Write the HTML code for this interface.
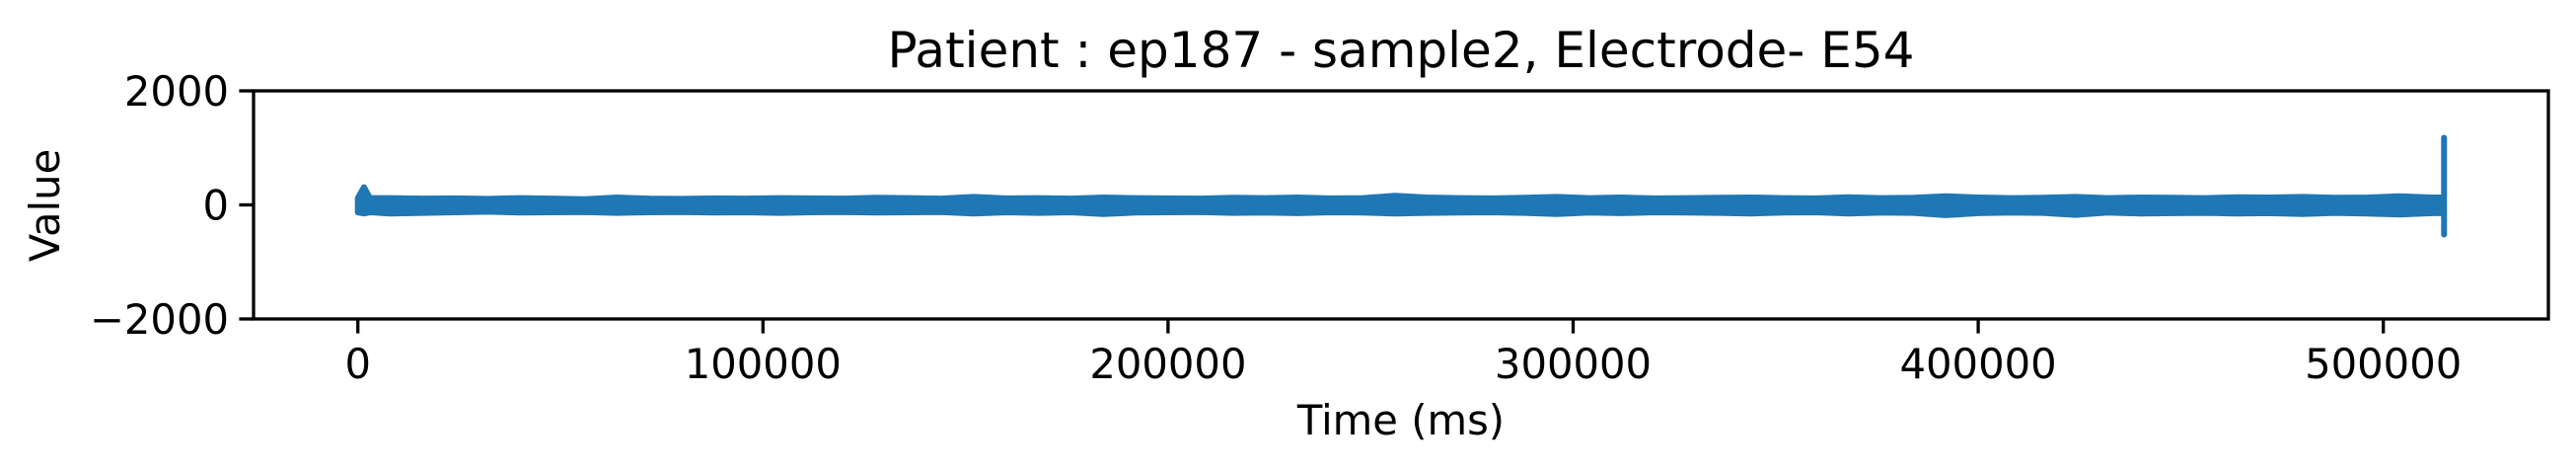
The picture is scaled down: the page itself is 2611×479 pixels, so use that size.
<!DOCTYPE html>
<html><head><meta charset="utf-8"><style>
html,body{margin:0;padding:0;background:#fff;}
svg{display:block;font-family:"DejaVu Sans","Liberation Sans",sans-serif;}
</style></head><body>
<svg id="chart" width="2611" height="479" viewBox="0 0 2611 479" xmlns="http://www.w3.org/2000/svg">
<rect width="2611" height="479" fill="#fff"/>
<text x="1420" y="68" font-size="50" text-anchor="middle">Patient : ep187 - sample2, Electrode- E54</text>
<text transform="translate(60,208) rotate(-90)" font-size="41.7" text-anchor="middle">Value</text>
<text x="1420" y="440" font-size="41.7" text-anchor="middle">Time (ms)</text>
<g id="ticks"></g>
<g id="series"></g>
<rect x="257" y="92" width="2326" height="231" fill="none" stroke="#000" stroke-width="3.3"/>
</svg>
<script>
const xTicks=[0,100000,200000,300000,400000,500000];
const xTickLabels=["0","100000","200000","300000","400000","500000"];
const yTicks=[-2000,0,2000];
const yTickLabels=["\u22122000","0","2000"];
const times=[0,1500,3000,8000,16000,24000,32000,40000,48000,56000,64000,72000,80000,88000,96000,104000,112000,120000,128000,136000,144000,152000,160000,168000,176000,184000,192000,200000,208000,216000,224000,232000,240000,248000,256000,264000,272000,280000,288000,296000,304000,312000,320000,328000,336000,344000,352000,360000,368000,376000,384000,392000,400000,408000,416000,424000,432000,440000,448000,456000,464000,472000,480000,488000,496000,504000,512000,514500];
const upper=[120,310,120,120,110,115,105,120,110,100,130,110,105,115,110,120,115,110,125,120,110,140,115,120,110,130,120,115,110,125,120,130,115,120,160,130,120,115,125,140,120,130,115,120,125,130,120,115,135,120,125,150,130,120,125,140,120,130,125,120,135,130,140,125,130,150,130,130];
const lower=[-130,-150,-130,-150,-140,-130,-120,-135,-130,-125,-140,-130,-125,-135,-130,-140,-130,-125,-135,-130,-125,-150,-130,-140,-130,-160,-135,-130,-125,-140,-135,-145,-130,-135,-150,-140,-135,-130,-140,-160,-135,-145,-130,-135,-140,-150,-135,-130,-150,-135,-140,-180,-145,-135,-140,-175,-135,-150,-145,-140,-150,-145,-160,-140,-150,-170,-145,-145];
const spikeTime=[515000];
const spikeHigh=[1177];
const spikeLow=[-520];

const X0=257,X1=2583,Y0=92,Y1=323;
const xMin=-25750,xMax=540750,yMin=-2000,yMax=2000;
function xs(v){return X0+(v-xMin)/(xMax-xMin)*(X1-X0);}
function ys(v){return Y1-(v-yMin)/(yMax-yMin)*(Y1-Y0);}
const NS="http://www.w3.org/2000/svg";
function mk(t,a){const e=document.createElementNS(NS,t);for(const k in a)e.setAttribute(k,a[k]);return e;}
const tg=document.getElementById('ticks');
xTicks.forEach((v,i)=>{
  const l=mk('line',{x1:xs(v),x2:xs(v),y1:Y1,y2:Y1+14.6,stroke:'#000','stroke-width':3.3});
  
  
  tg.appendChild(l);
  const t=mk('text',{x:xs(v),y:383,'font-size':41.7,'text-anchor':'middle'});
  
  
  t.textContent=xTickLabels[i];tg.appendChild(t);
});
yTicks.forEach((v,i)=>{
  const l=mk('line',{x1:X0-14.6,x2:X0,y1:ys(v),y2:ys(v),stroke:'#000','stroke-width':3.3});
  
  
  tg.appendChild(l);
  const t=mk('text',{x:X0-25,y:ys(v)+15,'font-size':41.7,'text-anchor':'end'});
  
  
  t.textContent=yTickLabels[i];tg.appendChild(t);
});
const sg=document.getElementById('series');
const n=Math.min(times.length,upper.length,lower.length);
let pts=[];
for(let i=0;i<n;i++)pts.push(xs(times[i]).toFixed(1)+','+ys(upper[i]).toFixed(1));
for(let i=n-1;i>=0;i--)pts.push(xs(times[i]).toFixed(1)+','+ys(lower[i]).toFixed(1));
const band=mk('polygon',{points:pts.join(' '),fill:'#1f77b4',stroke:'#1f77b4','stroke-width':6,'stroke-linejoin':'round'});


sg.appendChild(band);
spikeTime.forEach((t,i)=>{
  const s=mk('line',{x1:xs(t),x2:xs(t),y1:ys(spikeHigh[i]),y2:ys(spikeLow[i]),stroke:'#1f77b4','stroke-width':6,'stroke-linecap':'round'});
  
  
  sg.appendChild(s);
});
</script>
</body></html>
